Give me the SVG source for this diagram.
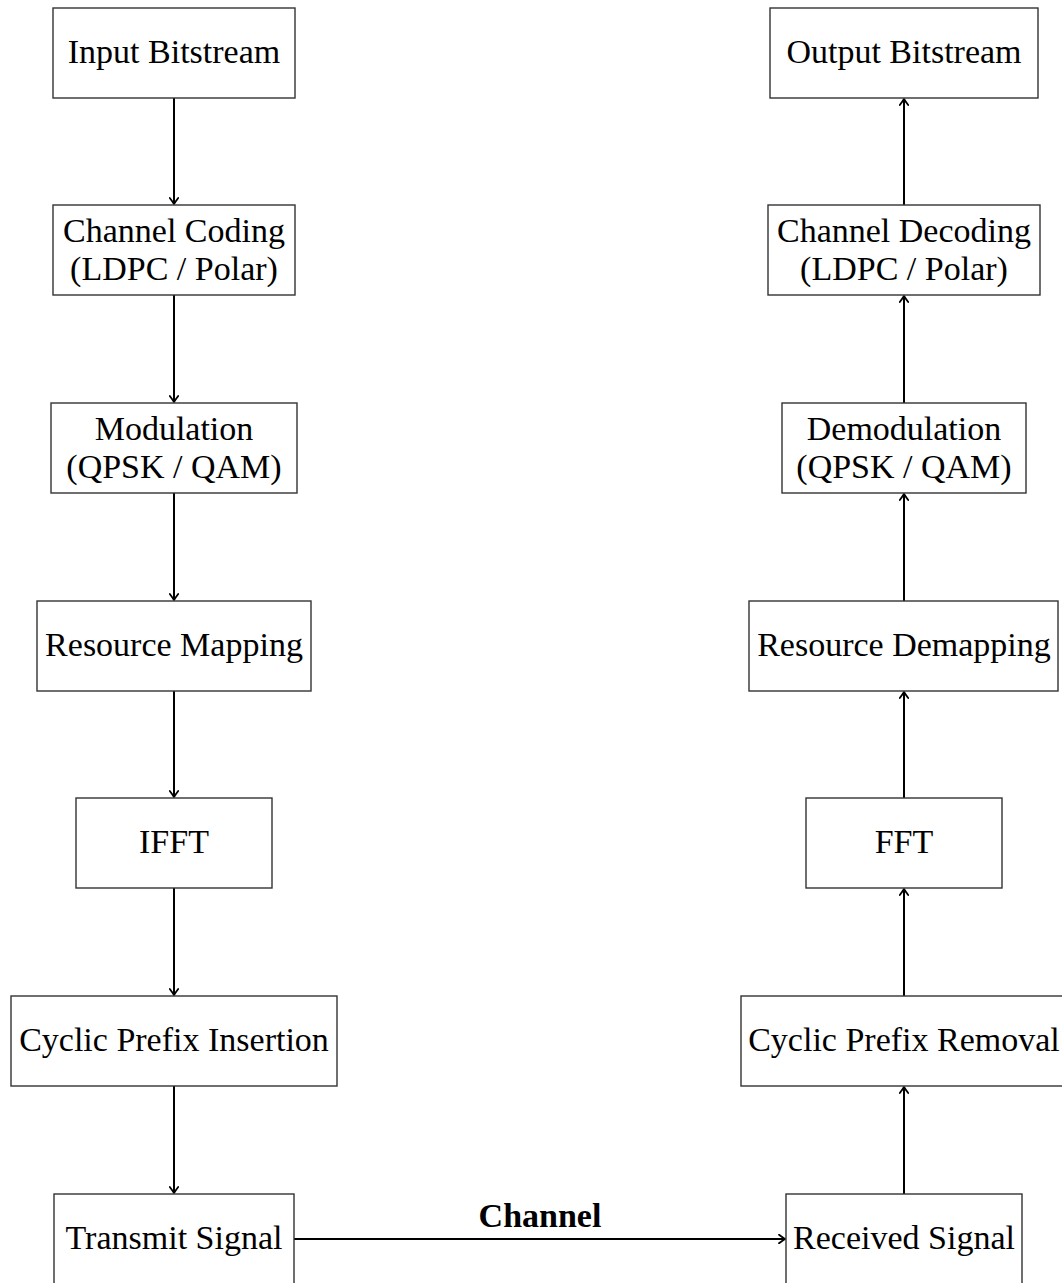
<svg xmlns="http://www.w3.org/2000/svg" width="1062" height="1283" viewBox="0 0 1062 1283">
  <style>
    .box { fill: #ffffff; stroke: #333333; stroke-width: 1.4; }
    .lbl { font-family: "Liberation Serif", "Times New Roman", serif; font-size: 34px; fill: #000000; text-anchor: middle; }
    .bold { font-weight: bold; }
    .edge { stroke: #000000; stroke-width: 2; fill: none; marker-end: url(#tip); }
  </style>
  <defs>
    <marker id="tip" viewBox="-8 -5 10 10" refX="0" refY="0" markerWidth="10" markerHeight="10" markerUnits="userSpaceOnUse" orient="auto">
      <path d="M -6 -4.2 Q -2 -1.2 0 0 Q -2 1.2 -6 4.2" fill="none" stroke="#000000" stroke-width="1.8" stroke-linecap="round" stroke-linejoin="round"/>
    </marker>
  </defs>
  <rect width="1062" height="1283" fill="#ffffff"/>

  <!-- connectors -->
  <g id="edges">
    <!-- transmitter chain, top to bottom -->
    <line class="edge" x1="174" y1="98" x2="174" y2="204"/>
    <line class="edge" x1="174" y1="295" x2="174" y2="402"/>
    <line class="edge" x1="174" y1="493" x2="174" y2="600"/>
    <line class="edge" x1="174" y1="691" x2="174" y2="797"/>
    <line class="edge" x1="174" y1="888" x2="174" y2="995"/>
    <line class="edge" x1="174" y1="1086" x2="174" y2="1193"/>
    <!-- channel link -->
    <line class="edge" x1="294" y1="1239" x2="785" y2="1239"/>
    <text class="lbl bold" x="540" y="1227">Channel</text>
    <!-- receiver chain, bottom to top -->
    <line class="edge" x1="904" y1="1194" x2="904" y2="1087"/>
    <line class="edge" x1="904" y1="996" x2="904" y2="889"/>
    <line class="edge" x1="904" y1="798" x2="904" y2="692"/>
    <line class="edge" x1="904" y1="601" x2="904" y2="494"/>
    <line class="edge" x1="904" y1="403" x2="904" y2="296"/>
    <line class="edge" x1="904" y1="205" x2="904" y2="99"/>
  </g>

  <!-- transmitter -->
  <g id="input-bitstream">
    <rect class="box" x="53" y="8" width="242" height="90"/>
    <text class="lbl" x="174" y="63">Input Bitstream</text>
  </g>
  <g id="channel-coding">
    <rect class="box" x="53" y="205" width="242" height="90"/>
    <text class="lbl" x="174" y="242">Channel Coding</text>
    <text class="lbl" x="174" y="280">(LDPC / Polar)</text>
  </g>
  <g id="modulation">
    <rect class="box" x="51" y="403" width="246" height="90"/>
    <text class="lbl" x="174" y="440">Modulation</text>
    <text class="lbl" x="174" y="478">(QPSK / QAM)</text>
  </g>
  <g id="resource-mapping">
    <rect class="box" x="37" y="601" width="274" height="90"/>
    <text class="lbl" x="174" y="656">Resource Mapping</text>
  </g>
  <g id="ifft">
    <rect class="box" x="76" y="798" width="196" height="90"/>
    <text class="lbl" x="174" y="853">IFFT</text>
  </g>
  <g id="cp-insertion">
    <rect class="box" x="11" y="996" width="326" height="90"/>
    <text class="lbl" x="174" y="1051">Cyclic Prefix Insertion</text>
  </g>
  <g id="transmit-signal">
    <rect class="box" x="54" y="1194" width="240" height="90"/>
    <text class="lbl" x="174" y="1249">Transmit Signal</text>
  </g>

  <!-- receiver -->
  <g id="output-bitstream">
    <rect class="box" x="770" y="8" width="268" height="90"/>
    <text class="lbl" x="904" y="63">Output Bitstream</text>
  </g>
  <g id="channel-decoding">
    <rect class="box" x="768" y="205" width="272" height="90"/>
    <text class="lbl" x="904" y="242">Channel Decoding</text>
    <text class="lbl" x="904" y="280">(LDPC / Polar)</text>
  </g>
  <g id="demodulation">
    <rect class="box" x="782" y="403" width="244" height="90"/>
    <text class="lbl" x="904" y="440">Demodulation</text>
    <text class="lbl" x="904" y="478">(QPSK / QAM)</text>
  </g>
  <g id="resource-demapping">
    <rect class="box" x="749" y="601" width="309" height="90"/>
    <text class="lbl" x="904" y="656">Resource Demapping</text>
  </g>
  <g id="fft">
    <rect class="box" x="806" y="798" width="196" height="90"/>
    <text class="lbl" x="904" y="853">FFT</text>
  </g>
  <g id="cp-removal">
    <rect class="box" x="741" y="996" width="326" height="90"/>
    <text class="lbl" x="904" y="1051">Cyclic Prefix Removal</text>
  </g>
  <g id="received-signal">
    <rect class="box" x="786" y="1194" width="236" height="90"/>
    <text class="lbl" x="904" y="1249">Received Signal</text>
  </g>
</svg>
